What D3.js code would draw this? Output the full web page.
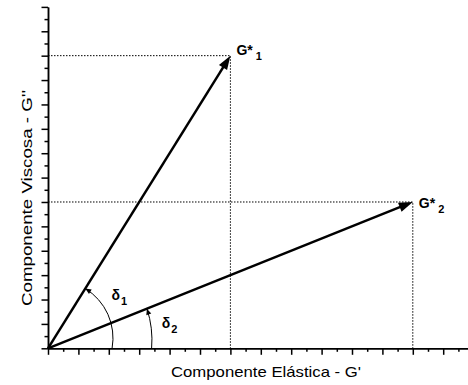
<!DOCTYPE html>
<meta charset="utf-8">
<style>
body { margin: 0; background: #fff; }
text { font-family: Arial, "Liberation Sans", sans-serif; fill: #000; }
.axis path, .axis line { stroke: #000; stroke-width: 1.5px; }
</style>
<body>
<script src="https://d3js.org/d3.v7.min.js"></script>
<script>
var width = 468,
    height = 385;

// axis extents and ticks (data units)
var xDomain = [0, 14];
var yDomain = [0, 14];
var majorTicks = d3.range(0, 15, 1);
var minorTicks = d3.range(0.5, 14, 1);

// complex modulus vectors
var vecX = [6, 12];
var vecY = [12, 6];
var vecSub = ["1", "2"];

// phase angles, one per vector
var arcSub = ["1", "2"];

var xTitle = "Componente Elástica - G'";
var yTitle = "Componente Viscosa - G''";

var x = d3.scaleLinear().domain(xDomain).range([48, 473.6]);
var y = d3.scaleLinear().domain(yDomain).range([348.3, 6.9]);

var svg = d3.select("body").append("svg")
    .attr("width", width)
    .attr("height", height);

// axes: major + minor ticks
svg.append("g").attr("class", "axis")
    .attr("transform", "translate(0," + y(0) + ")")
    .call(d3.axisBottom(x).tickValues(majorTicks).tickSize(6.5).tickSizeOuter(0).tickFormat(""));
svg.append("g").attr("class", "axis")
    .attr("transform", "translate(0," + y(0) + ")")
    .call(d3.axisBottom(x).tickValues(minorTicks).tickSize(3.5).tickSizeOuter(0).tickFormat(""));
svg.append("g").attr("class", "axis")
    .attr("transform", "translate(" + x(0) + ",0)")
    .call(d3.axisLeft(y).tickValues(majorTicks).tickSize(6.5).tickSizeOuter(0).tickFormat(""));
svg.append("g").attr("class", "axis")
    .attr("transform", "translate(" + x(0) + ",0)")
    .call(d3.axisLeft(y).tickValues(minorTicks).tickSize(3.5).tickSizeOuter(0).tickFormat(""));

// axis titles (stretched like the original figure)
svg.append("text")
    .attr("x", 266).attr("y", 377)
    .attr("text-anchor", "middle")
    .attr("textLength", 190)
    .attr("lengthAdjust", "spacingAndGlyphs")
    .style("font-size", "15px")
    .text(xTitle);
svg.append("text")
    .attr("transform", "translate(32,198) rotate(-90)")
    .attr("text-anchor", "middle")
    .attr("textLength", 216)
    .attr("lengthAdjust", "spacingAndGlyphs")
    .style("font-size", "15px")
    .text(yTitle);

// dotted projection lines
vecX.forEach(function(vx, i) {
  var px = x(vx), py = y(vecY[i]);
  svg.append("path")
      .attr("d", "M" + x(0) + "," + py + "H" + px + "V" + y(0))
      .attr("fill", "none")
      .attr("stroke", "#000")
      .attr("stroke-width", 1)
      .attr("stroke-dasharray", "1.5,1.5");
});

// vectors with arrowheads
var headLen = 14, headW = 4.8;
vecX.forEach(function(vx, i) {
  var x0 = x(0), y0 = y(0), x1 = x(vx), y1 = y(vecY[i]);
  var len = Math.hypot(x1 - x0, y1 - y0);
  var ux = (x1 - x0) / len, uy = (y1 - y0) / len;
  var bx = x1 - ux * headLen, by = y1 - uy * headLen;
  svg.append("line")
      .attr("x1", x0).attr("y1", y0)
      .attr("x2", bx + ux * 2).attr("y2", by + uy * 2)
      .attr("stroke", "#000").attr("stroke-width", 2.5);
  svg.append("path")
      .attr("d", "M" + x1 + "," + y1 +
                 "L" + (bx - uy * headW) + "," + (by + ux * headW) +
                 "L" + (bx + uy * headW) + "," + (by - ux * headW) + "Z")
      .attr("fill", "#000");

  // label G*n
  var dyLab = i === 0 ? -0.5 : 6.5;
  var t = svg.append("text")
      .attr("x", x1 + 6).attr("y", y1 + dyLab)
      .style("font-size", "14px").style("font-weight", "bold");
  t.append("tspan").text("G*");
  t.append("tspan").attr("dx", 3).attr("dy", 4.5).style("font-size", "11px").text(vecSub[i]);
});

// phase angle arcs (center in data units, radius in px)
var arcCenter = [[0.23, 0.42], [0.13, 0.34]];
var arcR = [58, 100];
var arcLab = [[2.09, 1.98], [3.74, 0.83]];

arcSub.forEach(function(s, i) {
  var cx = x(arcCenter[i][0]), cy = y(arcCenter[i][1]), r = arcR[i];
  var x0 = x(0), y0 = y(0);
  // start on the x axis
  var sx = cx + Math.sqrt(r * r - (y0 - cy) * (y0 - cy)), sy = y0;
  // end on the vector line
  var dx = x(vecX[i]) - x0, dy = y(vecY[i]) - y0;
  var ox = x0 - cx, oy = y0 - cy;
  var a = dx * dx + dy * dy, b = 2 * (ox * dx + oy * dy), c = ox * ox + oy * oy - r * r;
  var tt = (-b + Math.sqrt(b * b - 4 * a * c)) / (2 * a);
  var ex = x0 + dx * tt, ey = y0 + dy * tt;
  svg.append("path")
      .attr("d", "M" + sx + "," + sy + "A" + r + "," + r + " 0 0 0 " + ex + "," + ey)
      .attr("fill", "none").attr("stroke", "#000").attr("stroke-width", 1);
  // arrowhead along the tangent
  var ang = Math.atan2(ey - cy, ex - cx);
  var ux = Math.sin(ang), uy = -Math.cos(ang);
  var hl = 6, hw = 2.6;
  var bx = ex - ux * hl, by = ey - uy * hl;
  svg.append("path")
      .attr("d", "M" + ex + "," + ey +
                 "L" + (bx - uy * hw) + "," + (by + ux * hw) +
                 "L" + (bx + uy * hw) + "," + (by - ux * hw) + "Z")
      .attr("fill", "#000");

  var t = svg.append("text")
      .attr("x", x(arcLab[i][0])).attr("y", y(arcLab[i][1]))
      .style("font-size", "14px").style("font-weight", "bold");
  t.append("tspan").text("δ");
  t.append("tspan").attr("dx", 1).attr("dy", 5).style("font-size", "11px").text(s);
});
</script>
</body>
